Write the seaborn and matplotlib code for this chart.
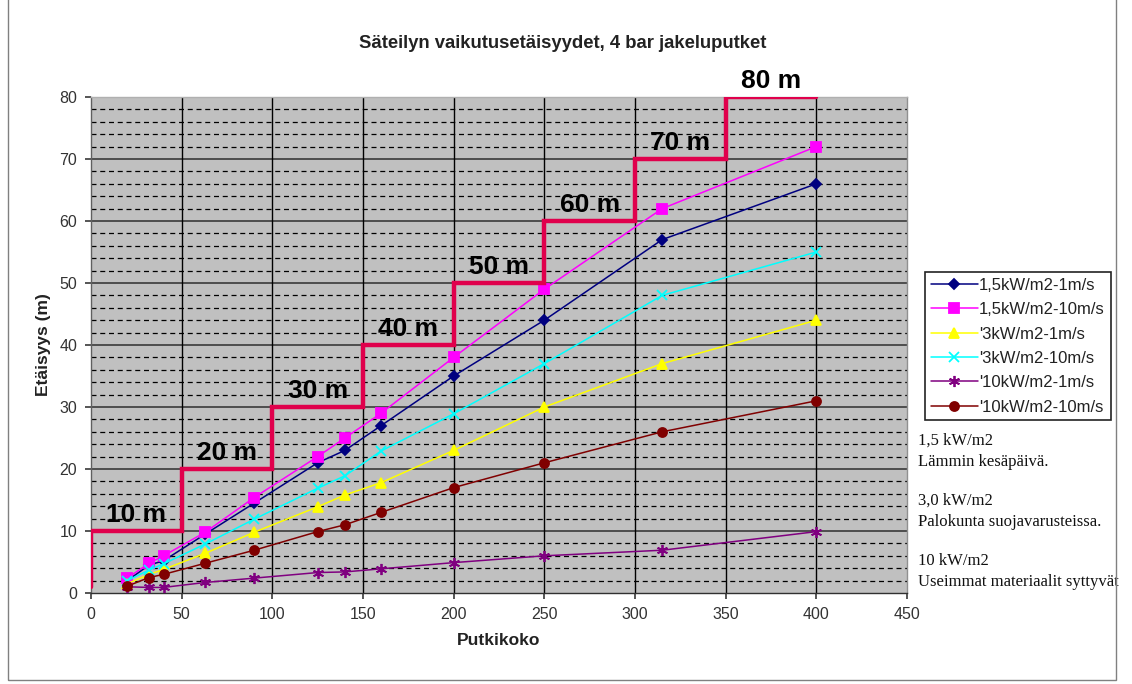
import numpy as np
import pandas as pd
import matplotlib
matplotlib.use("Agg")
import matplotlib.pyplot as plt
from matplotlib.patches import Rectangle
import seaborn as sns

# Pipe sizes (x) and radiation distances (m) for each heat flux / wind case
pipe_size = [20, 32, 40, 63, 90, 125, 140, 160, 200, 250, 315, 400]
flux15_wind1 = [2.0, 4.5, 5.2, 9.5, 14.5, 21, 23, 27, 35, 44, 57, 66]
flux15_wind10 = [2.4, 4.8, 6.0, 9.8, 15.4, 22, 25, 29, 38, 49, 62, 72]
flux3_wind1 = [1.5, 3.0, 3.8, 6.4, 9.8, 13.9, 15.8, 17.8, 23, 30, 37, 44]
flux3_wind10 = [2.0, 3.7, 4.7, 7.9, 11.9, 16.9, 18.9, 22.9, 28.9, 37, 48, 55]
flux10_wind1 = [1.0, 0.9, 0.9, 1.7, 2.4, 3.3, 3.4, 3.9, 4.9, 6.0, 6.9, 9.9]
flux10_wind10 = [1.1, 2.5, 3.0, 4.8, 6.9, 9.9, 11, 13, 17, 21, 26, 31]

series_names = ["1,5kW/m2-1m/s", "1,5kW/m2-10m/s", "'3kW/m2-1m/s",
                "'3kW/m2-10m/s", "'10kW/m2-1m/s", "'10kW/m2-10m/s"]
series_values = [flux15_wind1, flux15_wind10, flux3_wind1,
                 flux3_wind10, flux10_wind1, flux10_wind10]

# Safety-distance zones: pipe size where each zone starts and its distance
zone_start = [0, 50, 100, 150, 200, 250, 300, 350]
zone_distance = [10, 20, 30, 40, 50, 60, 70, 80]
zone_end = 400
zone_floor = 1
zone_labels = ["10 m", "20 m", "30 m", "40 m", "50 m", "60 m", "70 m", "80 m"]

notes = [
    "1,5 kW/m2\nLämmin kesäpäivä.",
    "3,0 kW/m2\nPalokunta suojavarusteissa.",
    "10 kW/m2\nUseimmat materiaalit syttyvät",
]

title = "Säteilyn vaikutusetäisyydet, 4 bar jakeluputket"
xlabel = "Putkikoko"
ylabel = "Etäisyys (m)"

sns.set_theme(style="white")
plt.rcParams["font.family"] = ["Liberation Sans", "DejaVu Sans"]

colors = ["#000080", "#FF00FF", "#FFFF00", "#00FFFF", "#800080", "#800000"]
markers = ["D", "s", "^", "x", (6, 2, 0), "o"]
msizes = [5, 6.5, 7, 7, 8, 6.5]

fig = plt.figure(figsize=(11.32, 6.84), dpi=100)
ax = fig.add_axes([91 / 1132, 1 - 593 / 684, 816 / 1132, 496 / 684])
ax.set_facecolor("#C0C0C0")

# Grid: dashed minor every 2 m, solid major every 10 m, verticals every 50
for yv in np.arange(2, 80, 2):
    if yv % 10:
        ax.axhline(yv, color="#000000", lw=0.9, ls=(0, (4, 3)), zorder=0.5)
for yv in np.arange(10, 80, 10):
    ax.axhline(yv, color="#3a3a3a", lw=1.2, zorder=0.6)
for xv in np.arange(50, 450, 50):
    ax.axvline(xv, color="#000000", lw=1.0, zorder=0.6)

long = pd.DataFrame({
    "x": np.tile(pipe_size, len(series_names)),
    "y": np.concatenate(series_values),
    "series": np.repeat(series_names, len(pipe_size)),
})

for name, col, mk, ms in zip(series_names, colors, markers, msizes):
    sub = long[long["series"] == name]
    sns.lineplot(data=sub, x="x", y="y", ax=ax, color=col, marker=mk,
                 markersize=ms, markeredgecolor=col, markerfacecolor=col,
                 markeredgewidth=1.3, lw=1.1, label=name, zorder=3)

# Zone step line
step_x = [0] + zone_start + [zone_end]
step_y = [zone_floor] + zone_distance + [zone_distance[-1]]
ax.plot(step_x, step_y, drawstyle="steps-post", color="#E0004C", lw=3.2,
        zorder=4, solid_joinstyle="miter")
for xs, yd, lab in zip(zone_start, zone_distance, zone_labels):
    ax.text(xs + 25, yd + 0.7, lab, ha="center", va="bottom",
            fontsize=19, fontweight="bold", color="black", zorder=5)

ax.set_xlim(0, 450)
ax.set_ylim(0, 80)
ax.set_xticks(np.arange(0, 451, 50))
ax.set_yticks(np.arange(0, 81, 10))
ax.tick_params(axis="both", labelsize=11.5, length=4, direction="out",
               color="#404040", labelcolor="#333333", pad=4)
ax.tick_params(axis="x", bottom=True, pad=6)
ax.tick_params(axis="y", left=True, pad=6)
ax.set_xlabel(xlabel, fontsize=12.5, fontweight="bold", labelpad=8,
              color="#222222")
ax.set_ylabel(ylabel, fontsize=12.5, fontweight="bold", labelpad=6,
              color="#222222")
for side, c in [("top", "#b0b0b0"), ("right", "#909090"),
                ("left", "#606060"), ("bottom", "#303030")]:
    ax.spines[side].set_color(c)
    ax.spines[side].set_linewidth(1.0)
    ax.spines[side].set_visible(True)

fig.text(563 / 1132, 1 - 43 / 684, title, ha="center", va="center",
         fontsize=13.3, fontweight="bold", color="#222222")

leg = ax.legend(loc="upper left", bbox_to_anchor=(925 / 1132, 1 - 272 / 684),
                bbox_transform=fig.transFigure, fontsize=12, frameon=True,
                fancybox=False, edgecolor="#222222", framealpha=1,
                borderpad=0.35, labelspacing=0.56, handlelength=2.8,
                handletextpad=0.1, borderaxespad=0)
leg.get_frame().set_linewidth(1.2)
for t in leg.get_texts():
    t.set_color("#222222")

# Explanatory notes under the legend
for i, note in enumerate(notes):
    fig.text(918 / 1132, 1 - (433 + 60 * i) / 684, note, ha="left", va="top",
             fontsize=12, family=["Liberation Serif", "DejaVu Serif"],
             linespacing=1.42, color="#111111")

# Chart area frame
fig.patches.append(Rectangle((8 / 1132, 4 / 684), 1108 / 1132, 690 / 684,
                             transform=fig.transFigure, fill=False,
                             edgecolor="#808080", lw=1.0, zorder=10))

fig.savefig("out.png", dpi=100)
